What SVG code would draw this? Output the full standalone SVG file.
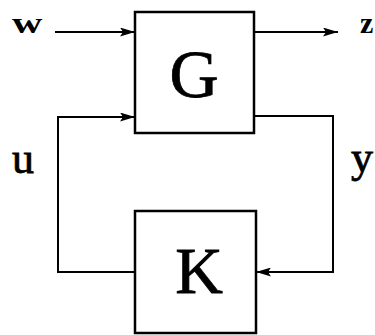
<svg xmlns="http://www.w3.org/2000/svg" width="375" height="335" viewBox="0 0 375 335">
<style>
.box{fill:#fff;stroke:#000;stroke-width:2.5}
.ln{fill:none;stroke:#000;stroke-width:2}
.lbl{font-family:"Liberation Serif","Times New Roman",serif;fill:#000;stroke:#000;stroke-width:0.8}
.sm{font-family:"Liberation Serif","Times New Roman",serif;font-weight:bold;fill:#000}
</style>
<defs>
<marker id="ah" viewBox="0 0 15 9" refX="15" refY="4.5" markerWidth="15" markerHeight="9" markerUnits="userSpaceOnUse" orient="auto">
<path d="M0,0 L15,4.5 L0,9 L3,4.5 z" fill="#000"/>
</marker>
</defs>
<rect width="375" height="335" fill="#fff"/>
<g id="connectors">
<line class="ln" x1="55" y1="32" x2="135" y2="32" marker-end="url(#ah)"/>
<line class="ln" x1="254" y1="32" x2="338" y2="32" marker-end="url(#ah)"/>
<polyline class="ln" points="135,272 58,272 58,117 135,117" marker-end="url(#ah)"/>
<polyline class="ln" points="254,116 333,116 333,272 256,272" marker-end="url(#ah)"/>
</g>
<g id="G">
<rect class="box" x="135" y="12" width="119" height="121"/>
<text class="lbl" x="194" y="97" font-size="68" text-anchor="middle">G</text>
</g>
<g id="K">
<rect class="box" x="135" y="211" width="121" height="122"/>
<text class="lbl" x="199" y="293" font-size="66" text-anchor="middle">K</text>
</g>
<g id="labels">
<text class="sm" font-size="30" transform="translate(12,33) scale(1.4,1)">w</text>
<text class="sm" font-size="30" x="360" y="33">z</text>
<text class="lbl" x="12" y="173" font-size="44">u</text>
<text class="lbl" x="351" y="172" font-size="44">y</text>
</g>
</svg>
